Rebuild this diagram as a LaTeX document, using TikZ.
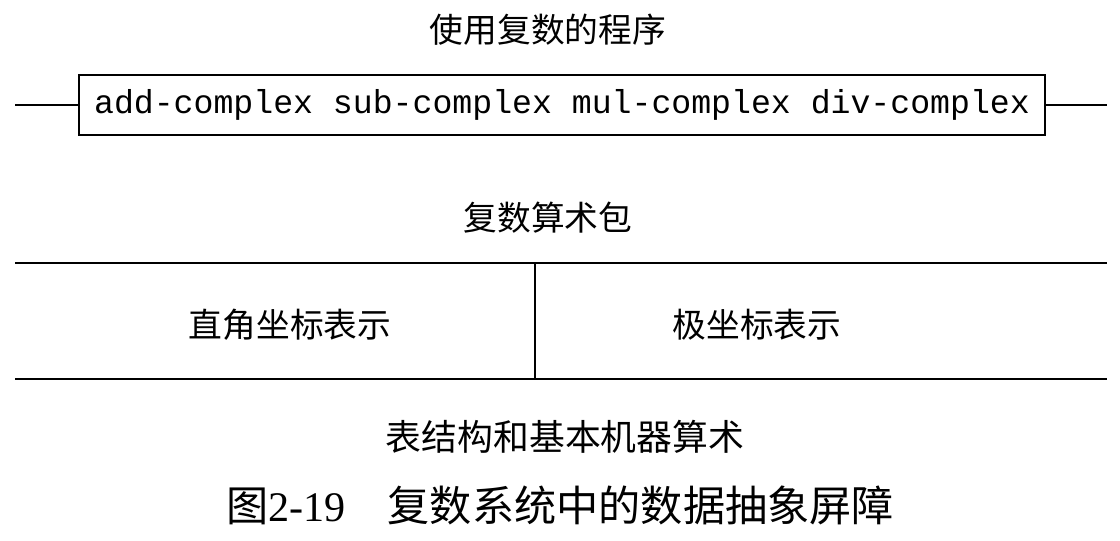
\documentclass[tikz,border=0pt]{standalone}
\usepackage{fontspec}
\setmainfont{Liberation Serif}
\setmonofont{Liberation Mono}
\newfontfamily\cjk{Noto Sans CJK SC}
\usepackage{tikz}
\usetikzlibrary{positioning}

\begin{document}
\begin{tikzpicture}
		\useasboundingbox (0,0) rectangle (28,13.5);
		\tikzset{
			  lbl/.style={font=\cjk\fontsize{24}{28}\selectfont, inner sep=0pt},
			  rule/.style={line width=1.6pt}
		}
		% program layer
		\node[lbl] (prog) at (13.7,12.75) {使用复数的程序};
		\node[
			  draw,
			  line width=1.2pt,
			  minimum width=24.15cm,
			  minimum height=1.5cm,
			  inner sep=0pt,
			  font=\ttfamily\fontsize{23.6}{28}\selectfont
    	      ] (ops) at (14.05,10.875) {add-complex sub-complex mul-complex div-complex};
		\coordinate (opsL) at (0.375,10.875);
		\coordinate (opsR) at (27.675,10.875);
		\draw[line width=1.2pt] (opsL) -- (ops.west);
		\draw[line width=1.2pt] (ops.east) -- (opsR);
		% arithmetic package
		\node[lbl] (pkg) at (13.7,8.05) {复数算术包};
		\coordinate (topL) at (0.375,6.925);
		\coordinate (topR) at (27.675,6.925);
		\coordinate (botL) at (0.375,4.025);
		\coordinate (botR) at (27.675,4.025);
		\coordinate (midT) at (13.375,6.925);
		\coordinate (midB) at (13.375,4.025);
		\draw[rule] (topL) -- (topR);
		\draw[rule] (botL) -- (botR);
		\draw[line width=1.2pt] (midT) -- (midB);
		\node[lbl] (rect) at (7.25,5.375) {直角坐标表示};
		\node[lbl] (polar) at (18.925,5.375) {极坐标表示};
		% bottom layer
		\node[lbl, font=\cjk\fontsize{25.5}{30}\selectfont] (list) at (14.125,2.575) {表结构和基本机器算术};
		\node[font=\fontsize{30}{34}\selectfont, inner sep=0pt] (cap) at (14.0,0.875)
		     {{\cjk 图}2-19\quad{\cjk 复数系统中的数据抽象屏障}};
	\end{tikzpicture}
\end{document}
